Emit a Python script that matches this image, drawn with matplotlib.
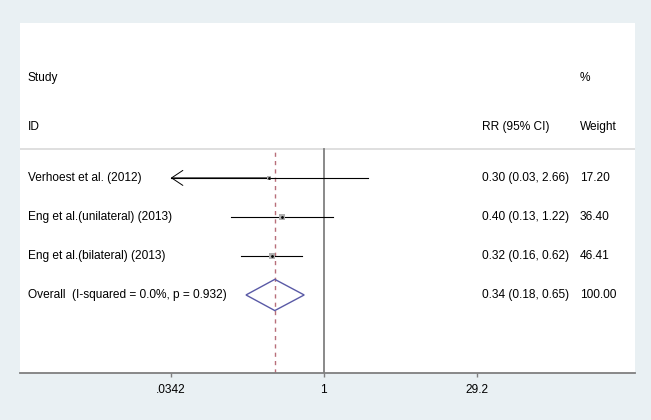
import numpy as np
import matplotlib.pyplot as plt
from matplotlib.patches import Polygon

# study data (RR, 95% CI, % weight)
studies = ['Verhoest et al. (2012)', 'Eng et al.(unilateral) (2013)', 'Eng et al.(bilateral) (2013)']
rr = [0.30, 0.40, 0.32]
ci_lo = [0.03, 0.13, 0.16]
ci_hi = [2.66, 1.22, 0.62]
weights = [17.20, 36.40, 46.41]

overall_label = 'Overall  (I-squared = 0.0%, p = 0.932)'
overall = [0.34, 0.18, 0.65]
overall_weight = 100.00

tick_vals = [0.0342, 1, 29.2]
tick_labels = ['.0342', '1', '29.2']

plt.rcParams['font.family'] = ['Liberation Sans', 'DejaVu Sans']
fs = 8.6

fig = plt.figure(figsize=(6.51, 4.20), dpi=100, facecolor='#e9f0f3')
ax = fig.add_axes([20 / 651, 47 / 420, 615 / 651, 350 / 420])
ax.set_facecolor('white')
ax.set_xscale('log')
ax.set_xlim(0.00123, 961)
y_bot, y_top = 5.0, -3.97
ax.set_ylim(y_bot, y_top)

rows = np.arange(len(studies))
ov_row = len(studies)
sep_row = -0.74
sep_frac = (y_bot - sep_row) / (y_bot - y_top)

# x in axes fraction, y in rows
tr = ax.get_yaxis_transform()
def col(px):
    return (px - 20) / 615

# header
ax.axhline(sep_row, color='#d9d9d9', lw=1.2)
ax.text(col(27.5), -2.56, 'Study', transform=tr, fontsize=fs, va='center')
ax.text(col(27.5), -1.31, 'ID', transform=tr, fontsize=fs, va='center')
ax.text(col(482), -1.31, 'RR (95% CI)', transform=tr, fontsize=fs, va='center')
ax.text(col(580), -2.56, '%', transform=tr, fontsize=fs, va='center')
ax.text(col(580), -1.31, 'Weight', transform=tr, fontsize=fs, va='center')

# reference lines
ax.axvline(1, ymin=0, ymax=sep_frac, color='#808080', lw=1.3)
ax.axvline(overall[0], ymin=0, ymax=sep_frac, color='#b86f7a', lw=1, ls=(0, (3, 3)))

xmin = tick_vals[0]
for r, name, est, lo, hi, w in zip(rows, studies, rr, ci_lo, ci_hi, weights):
    if lo < xmin:
        ax.plot([xmin, hi], [r, r], color='black', lw=0.8)
        ax.annotate('', xy=(xmin, r), xytext=(est, r),
                    arrowprops=dict(arrowstyle='->,head_length=0.45,head_width=0.3',
                                    mutation_scale=18, color='black', lw=0.7,
                                    shrinkA=0, shrinkB=0))
    else:
        ax.plot([lo, hi], [r, r], color='black', lw=0.8)
    ax.scatter([est], [r], marker='s', s=w * 0.46, color='#b0b0b0', zorder=3, linewidths=0)
    ax.scatter([est], [r], marker='o', s=4, color='black', zorder=4, linewidths=0)
    ax.text(col(27.5), r, name, transform=tr, fontsize=fs, va='center')
    ax.text(col(482), r, f'{est:.2f} ({lo:.2f}, {hi:.2f})', transform=tr, fontsize=fs, va='center')
    ax.text(col(580), r, f'{w:.2f}', transform=tr, fontsize=fs, va='center')

# overall diamond
est, lo, hi = overall
h = 0.4
diamond = Polygon([(lo, ov_row), (est, ov_row - h), (hi, ov_row), (est, ov_row + h)],
                  closed=True, fill=False, edgecolor='#5a5aa6', lw=1, zorder=3)
ax.add_patch(diamond)
ax.text(col(27.5), ov_row, overall_label, transform=tr, fontsize=fs, va='center')
ax.text(col(482), ov_row, f'{est:.2f} ({lo:.2f}, {hi:.2f})', transform=tr, fontsize=fs, va='center')
ax.text(col(580), ov_row, f'{overall_weight:.2f}', transform=tr, fontsize=fs, va='center')

# axes styling
for s in ['top', 'left', 'right']:
    ax.spines[s].set_visible(False)
ax.spines['bottom'].set_color('#7f7f7f')
ax.spines['bottom'].set_linewidth(1.3)
ax.set_yticks([])
ax.set_xticks(tick_vals)
ax.set_xticklabels(tick_labels)
ax.minorticks_off()
ax.tick_params(axis='x', length=3, width=1, color='#7f7f7f', labelsize=fs, pad=5)

plt.savefig('out.png', dpi=100, facecolor=fig.get_facecolor())
